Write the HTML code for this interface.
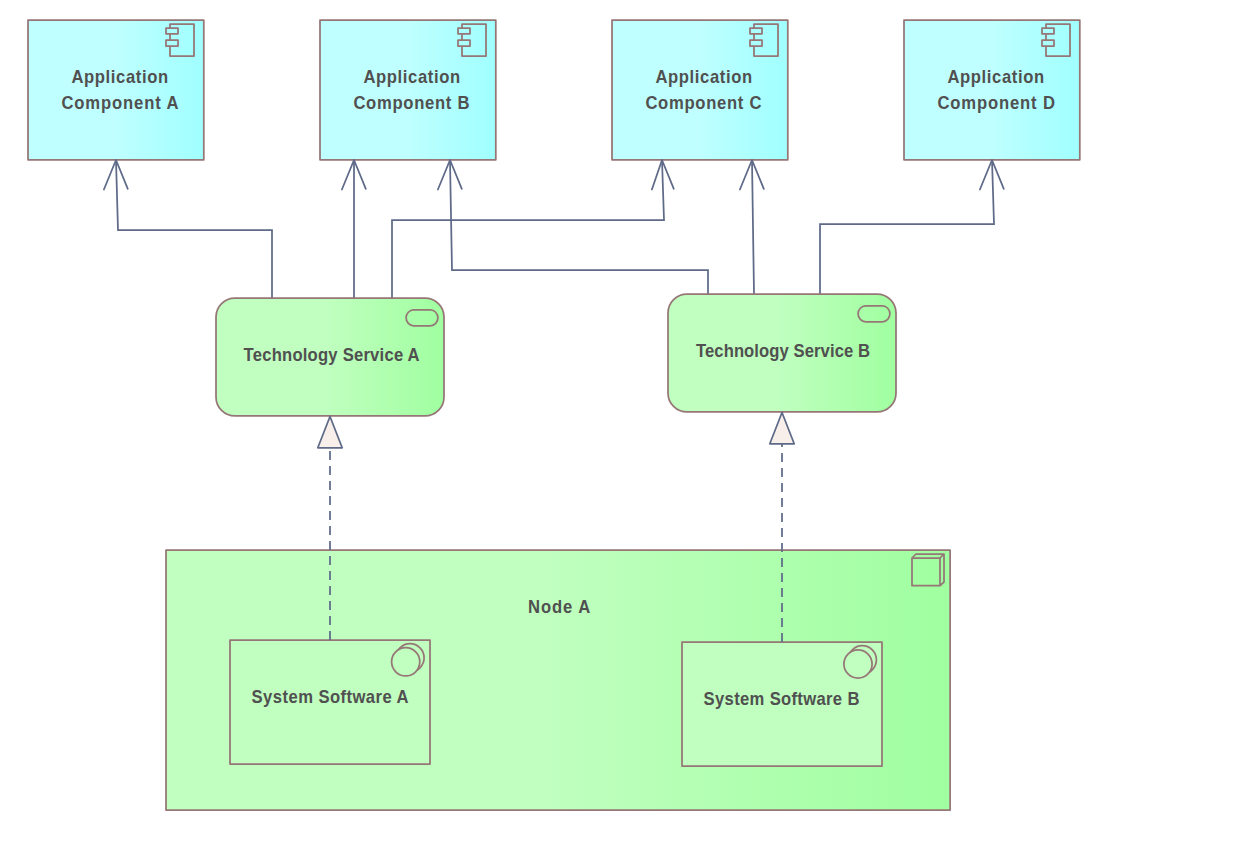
<!DOCTYPE html>
<html><head><meta charset="utf-8">
<style>
html,body{margin:0;padding:0;background:#fff;width:1260px;height:868px;overflow:hidden}
svg{display:block}
text{font-family:"Liberation Sans",sans-serif;font-weight:bold;font-size:17.7px;fill:#505050}
</style></head>
<body>
<svg width="1260" height="868" viewBox="0 0 1260 868">
<defs>
<linearGradient id="gc" x1="0" y1="0" x2="1" y2="0">
<stop offset="0" stop-color="#c0ffff"/><stop offset="0.48" stop-color="#c0ffff"/><stop offset="1" stop-color="#a0ffff"/>
</linearGradient>
<linearGradient id="gg" x1="0" y1="0" x2="1" y2="0">
<stop offset="0" stop-color="#c0ffc0"/><stop offset="0.48" stop-color="#c0ffc0"/><stop offset="1" stop-color="#a0ffa0"/>
</linearGradient>
</defs>
<rect width="1260" height="868" fill="#fff"/>

<g fill="none" stroke="#5e6a88" stroke-width="1.75">
<polyline points="272,298 272,230 118,230 116,160"/>
<polyline points="354,298 354,160"/>
<polyline points="392,298 392,220 664,220 662,160"/>
<polyline points="708,294 708,270 452,270 450,160"/>
<polyline points="754,294 752,160"/>
<polyline points="820,294 820,224 994,224 992,160"/>
</g>

<g stroke="#967676" stroke-width="1.75" fill="url(#gc)" stroke-linejoin="round">
<rect x="28" y="20" width="175.8" height="139.8"/>
<rect x="320" y="20" width="175.8" height="139.8"/>
<rect x="612" y="20" width="175.8" height="139.8"/>
<rect x="904" y="20" width="175.8" height="139.8"/>
</g>

<g fill="none" stroke="#967676" stroke-width="1.75" id="icoA" stroke-linejoin="round">
<path d="M170,28 V24 H194 V56 H170 V46 M170,40 V34"/>
<rect x="166" y="28" width="12" height="5.8"/>
<rect x="166" y="40.2" width="12" height="5.8"/>
</g>
<use href="#icoA" x="292"/>
<use href="#icoA" x="584"/>
<use href="#icoA" x="876"/>

<g fill="none" stroke="#5e6a88" stroke-width="1.75" stroke-linejoin="round" stroke-linecap="round">
<polyline points="103.90,189.5 116,160 127.80,188.8"/>
<polyline points="341.90,189.5 354,160 365.80,188.8"/>
<polyline points="437.90,189.5 450,160 461.80,188.8"/>
<polyline points="651.90,189.5 662,160 673.80,188.8"/>
<polyline points="739.90,189.5 752,160 763.80,188.8"/>
<polyline points="979.90,189.5 992,160 1003.80,188.8"/>
</g>

<g stroke="#967676" stroke-width="1.75" stroke-linejoin="round">
<rect x="216" y="298.1" width="228" height="117.8" rx="19" ry="19" fill="url(#gg)"/>
<rect x="406.1" y="309.9" width="31.8" height="15.9" rx="7.5" ry="7.95" fill="none"/>
<rect x="668" y="294.1" width="228" height="117.8" rx="19" ry="19" fill="url(#gg)"/>
<rect x="858.1" y="305.9" width="31.8" height="15.9" rx="7.5" ry="7.95" fill="none"/>

<rect x="166" y="550" width="784.1" height="260" fill="url(#gg)"/>
<g fill="none">
<rect x="912" y="558" width="28" height="27.7"/>
<path d="M912,558 L916,554 H944 V582 L940,585.7 M940,558 L944,554"/>
</g>

<rect x="230" y="640.1" width="200" height="123.9" fill="#c0ffc0"/>
<circle cx="410" cy="657.8" r="14.1" fill="#c0ffc0"/>
<circle cx="405.7" cy="661.8" r="14.1" fill="#c0ffc0"/>

<rect x="682" y="642.1" width="200" height="123.9" fill="#c0ffc0"/>
<circle cx="862.3" cy="659.8" r="14.1" fill="#c0ffc0"/>
<circle cx="858" cy="664" r="14.1" fill="#c0ffc0"/>
</g>

<text transform="translate(71.40,82.90) scale(0.94,1)" x="0" y="0" textLength="102.87" lengthAdjust="spacing">Application</text>
<text transform="translate(61.40,108.80) scale(0.94,1)" x="0" y="0" textLength="124.68" lengthAdjust="spacing">Component A</text>
<text transform="translate(363.40,82.90) scale(0.94,1)" x="0" y="0" textLength="102.87" lengthAdjust="spacing">Application</text>
<text transform="translate(353.40,108.80) scale(0.94,1)" x="0" y="0" textLength="123.40" lengthAdjust="spacing">Component B</text>
<text transform="translate(655.40,82.90) scale(0.94,1)" x="0" y="0" textLength="102.87" lengthAdjust="spacing">Application</text>
<text transform="translate(645.40,108.80) scale(0.94,1)" x="0" y="0" textLength="123.40" lengthAdjust="spacing">Component C</text>
<text transform="translate(947.40,82.90) scale(0.94,1)" x="0" y="0" textLength="102.87" lengthAdjust="spacing">Application</text>
<text transform="translate(937.40,108.80) scale(0.94,1)" x="0" y="0" textLength="125.11" lengthAdjust="spacing">Component D</text>
<text transform="translate(243.60,360.80) scale(0.94,1)" x="0" y="0" textLength="187.23" lengthAdjust="spacing">Technology Service A</text>
<text transform="translate(696.00,356.80) scale(0.94,1)" x="0" y="0" textLength="185.11" lengthAdjust="spacing">Technology Service B</text>
<text transform="translate(528.00,612.90) scale(0.94,1)" x="0" y="0" textLength="66.17" lengthAdjust="spacing">Node A</text>
<text transform="translate(251.60,702.70) scale(0.94,1)" x="0" y="0" textLength="167.02" lengthAdjust="spacing">System Software A</text>
<text transform="translate(703.60,704.70) scale(0.94,1)" x="0" y="0" textLength="165.74" lengthAdjust="spacing">System Software B</text>

<g fill="none" stroke="#5e6a88" stroke-width="1.75" stroke-dasharray="9 6">
<path d="M330,640 V448"/>
<path d="M782,642 V444"/>
</g>
<g fill="#f9efea" stroke="#5e6a88" stroke-width="1.75" stroke-linejoin="round">
<polygon points="330,416.5 317.8,447.8 342.2,447.8"/>
<polygon points="782,412.5 769.8,443.8 794.2,443.8"/>
</g>
</svg>
</body></html>
